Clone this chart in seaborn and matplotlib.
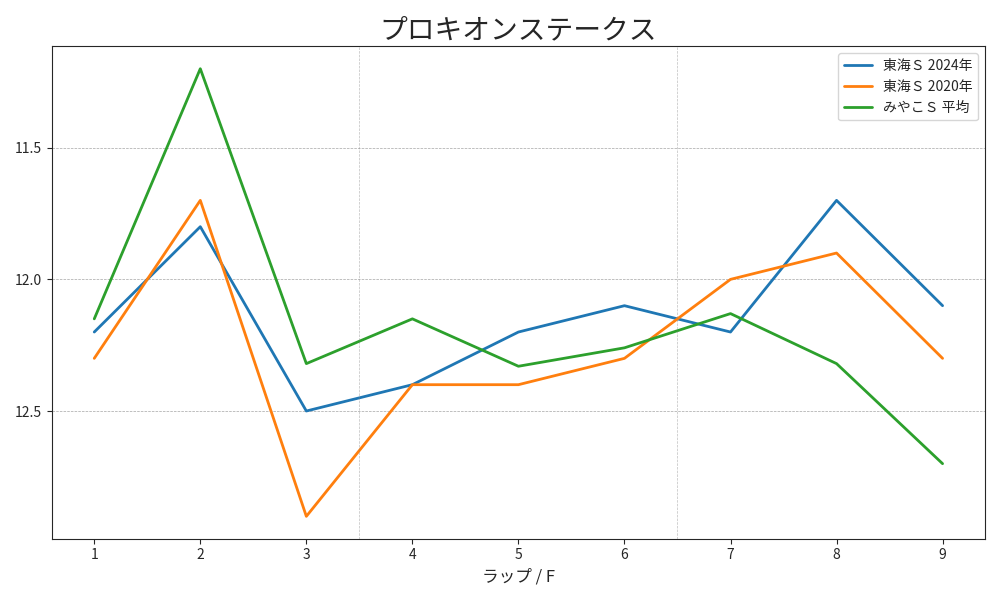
import numpy as np
import pandas as pd
import matplotlib
matplotlib.use("Agg")
import matplotlib.pyplot as plt
import seaborn as sns

laps = [1, 2, 3, 4, 5, 6, 7, 8, 9]
tokai_2024 = [12.2, 11.8, 12.5, 12.4, 12.2, 12.1, 12.2, 11.7, 12.1]
tokai_2020 = [12.3, 11.7, 12.9, 12.4, 12.4, 12.3, 12.0, 11.9, 12.3]
miyako_avg = [12.15, 11.2, 12.32, 12.15, 12.33, 12.26, 12.13, 12.32, 12.7]
series_names = ["東海Ｓ 2024年", "東海Ｓ 2020年", "みやこＳ 平均"]

sns.set_style("ticks")
plt.rcParams["font.family"] = ["Noto Sans CJK JP", "DejaVu Sans"]

df = pd.DataFrame({
    "lap": laps * 3,
    "time": tokai_2024 + tokai_2020 + miyako_avg,
    "series": [n for n in series_names for _ in laps],
})

fig, ax = plt.subplots(figsize=(10, 6), dpi=100)
sns.lineplot(data=df, x="lap", y="time", hue="series", palette="tab10",
             linewidth=2, ax=ax)

ax.invert_yaxis()
ax.set_xticks(laps)
ax.set_yticks([11.5, 12.0, 12.5])
ax.grid(axis="y", linestyle="--", linewidth=0.5, color="gray", alpha=0.7)
for xv in (3.5, 6.5):
    ax.axvline(xv, linestyle="--", linewidth=0.5, color="gray", alpha=0.5)

ax.set_title("プロキオンステークス", fontsize=20)
ax.set_xlabel("ラップ / F", fontsize=12)
ax.set_ylabel("")
ax.legend(loc="upper right", fontsize=10)
for sp in ax.spines.values():
    sp.set_visible(True)

plt.tight_layout()
fig.savefig("out.png", dpi=100)
